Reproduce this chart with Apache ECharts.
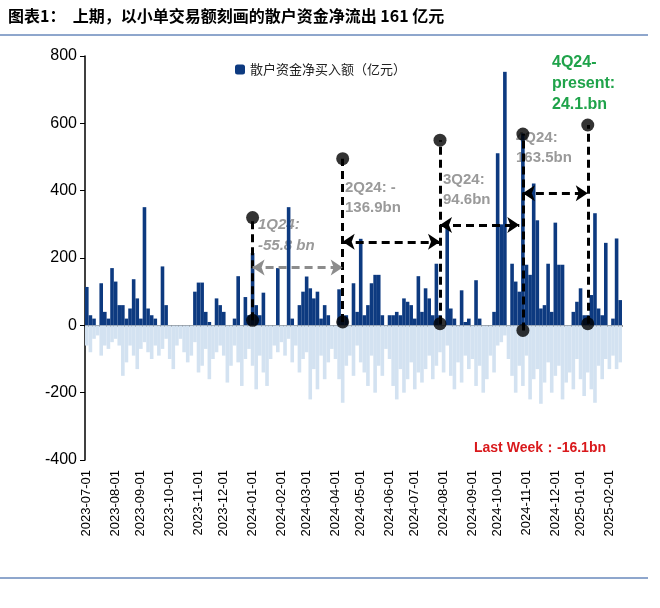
<!DOCTYPE html>
<html><head><meta charset="utf-8">
<script src="https://cdn.jsdelivr.net/npm/echarts@6/dist/echarts.min.js"></script>
<style>html,body{margin:0;padding:0;background:#fff}#c{width:660px;height:608px}</style>
</head><body><div id="c"></div>
<script>
// categories: every 4 calendar days from 2023-07-03
const categories = [];
(function(){ let d = new Date(Date.UTC(2023,6,3)); for (let i=0;i<149;i++){ categories.push(d.toISOString().slice(0,10)); d = new Date(d.getTime()+4*86400000);} })();
const posValues = [114,30,20,0,125,40,20,170,130,60,60,20,50,137,80,20,351,50,30,20,0,175,60,0,0,0,0,0,0,0,
100,127,127,40,10,0,80,60,40,0,0,20,146,0,84,30,215,60,30,97,0,0,0,170,0,0,351,20,0,60,
100,145,110,80,100,20,60,30,0,0,107,30,30,0,125,40,257,30,60,125,150,150,30,0,30,30,40,30,80,70,
60,20,146,40,110,80,30,183,30,0,292,50,20,0,104,10,20,0,134,20,0,0,0,40,511,300,753,0,183,130,
100,570,180,150,421,312,50,60,183,40,305,180,180,0,0,40,70,110,30,30,90,333,50,30,245,0,20,258,75];
const negValues = [-60,-80,-40,-30,-90,-60,-70,-50, -40,-60,-150,-110,-60,-90,-130,-70, -50,-80,-100,-60,-90,-70,-40,
-100,-130,-60,-40,-80,-110,-90,-50, -140,-120,-70,-160,-100,-80,-60, -90,-170,-120,-60,-110,-180,-100,-70,
-120,-190,-90,-140,-180,-100,-60,-80, -50,-90,-40,-110,-60,-140,-100, -80,-220,-130,-190,-90,-160,-110,-70,
-100,-160,-230,-120,-90,-150,-60,-110, -140,-180,-90,-200,-120,-150,-70,-100, -180,-220,-130,-200,-160,-110,-190,-140,
-170,-130,-90,-160,-120,-80,-140, -60,-150,-190,-110,-170,-90,-130,-100, -180,-120,-200,-160,-90,-140,-60,
-50,-30,-100,-150,-200,-120,-180,-90, -220,-160,-130,-233,-170,-110,-200,-150, -120,-220,-170,-140,-190,-100,-160,
-210,-140,-190,-230,-120,-160,-100,-130, -90,-130,-110];
const yTicks = [-400,-200,0,200,400,600,800];
// annotation markers: [category index, top value, bottom value]
const markers = [[46,320,15],[71,495,10],[98,550,5],[121,568,-15],[139,595,5]];
// arrows: [from index, to index, value, color]
const arrows = [[46,71,172,'#8c8c8c'],[71,98,248,'#000'],[98,120,298,'#000'],[121,139,392,'#000']];

const monthStart = (i) => i===0 || categories[i].slice(5,7)!==categories[i-1].slice(5,7);
const dots = [];
markers.forEach(m=>{dots.push([categories[m[0]],m[1]]);dots.push([categories[m[0]],m[2]]);});
const mlData = [];
markers.forEach(m=>mlData.push([{coord:[categories[m[0]],m[2]],symbol:'none'},{coord:[categories[m[0]],m[1]],symbol:'none'}]));
arrows.forEach(a=>mlData.push([{coord:[categories[a[0]],a[2]],lineStyle:{color:a[3]}},{coord:[categories[a[1]],a[2]],lineStyle:{color:a[3]}}]));

const chart = echarts.init(document.getElementById('c'));
const gray = '#9a9a9a', F = 'Arial, Liberation Sans, sans-serif';
chart.setOption({
  animation:false,
  grid:{left:85,right:38,top:56,bottom:148},
  xAxis:[{type:'category',data:categories,axisLine:{onZero:true,lineStyle:{color:'#000',width:1.5}},
    axisTick:{interval:(i)=>monthStart(i),alignWithLabel:true,lineStyle:{color:'#000'},length:5,inside:false},
    axisLabel:{show:false},splitLine:{show:false}},
   {type:'category',data:categories,position:'bottom',axisLine:{show:false,onZero:false},axisTick:{show:false},
    axisLabel:{interval:(i)=>monthStart(i),rotate:90,formatter:v=>v.slice(0,8)+'01',fontFamily:F,fontSize:13,color:'#000',margin:10}}],
  yAxis:{type:'value',min:-400,max:800,interval:200,axisLine:{show:true,lineStyle:{color:'#000',width:1.5}},
    axisTick:{show:true,lineStyle:{color:'#000'}},splitLine:{show:false},
    axisLabel:{fontFamily:F,fontSize:16,color:'#000',formatter:v=>yTicks.includes(v)?String(v):''}},
  legend:{show:true,left:230,top:58,itemWidth:10,itemHeight:10,data:['散户资金净买入额（亿元）'],
    textStyle:{fontFamily:'Noto Sans CJK SC',fontSize:13,color:'#222'}},
  series:[
    {name:'散户资金净买入额（亿元）',type:'bar',stack:'s',data:posValues,barCategoryGap:'0%',itemStyle:{color:'#0d3a80'}},
    {name:'neg',type:'bar',stack:'s',data:negValues,barCategoryGap:'0%',itemStyle:{color:'#d3e2f1'}},
    {name:'marks',type:'scatter',data:dots,symbolSize:13,itemStyle:{color:'#000'},z:10,
     markLine:{silent:true,symbol:['arrow','arrow'],symbolSize:12,label:{show:false},
       lineStyle:{type:[8,5],width:3,color:'#000'},data:mlData}}
  ],
  graphic:[
    {type:'text',left:8,top:8,style:{text:'图表1：  上期，以小单交易额刻画的散户资金净流出 161 亿元',font:'bold 16px "Noto Sans CJK SC"',fill:'#000'}},
    {type:'line',shape:{x1:0,y1:35,x2:648,y2:35},style:{stroke:'#1f4e9a',lineWidth:1}},
    {type:'line',shape:{x1:0,y1:578,x2:648,y2:578},style:{stroke:'#1f4e9a',lineWidth:1}},
    {type:'text',left:258,top:214,style:{text:'1Q24:\n-55.8 bn',font:'italic bold 15px Arial',fill:gray,lineHeight:21,textDecoration:'underline'}},
    {type:'text',left:345,top:178,style:{text:'2Q24: -\n136.9bn',font:'bold 15px Arial',fill:gray,lineHeight:20}},
    {type:'text',left:443,top:170,style:{text:'3Q24:\n94.6bn',font:'bold 15px Arial',fill:gray,lineHeight:20}},
    {type:'text',left:516,top:128,style:{text:'4Q24:\n163.5bn',font:'bold 15px Arial',fill:gray,lineHeight:20}},
    {type:'text',left:552,top:52,style:{text:'4Q24-\npresent:\n24.1.bn',font:'bold 16px Arial',fill:'#1fa34a',lineHeight:21}},
    {type:'text',left:474,top:441,style:{text:'Last Week：-16.1bn',font:'bold 14px Arial',fill:'#d9191c'}}
  ]
});
</script></body></html>
